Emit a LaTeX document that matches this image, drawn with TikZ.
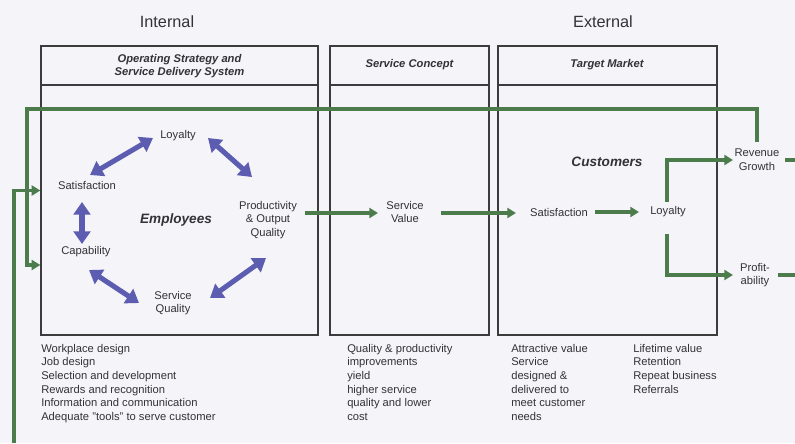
\documentclass[tikz,border=0pt]{standalone}
\usepackage{fontspec}
\setmainfont{Liberation Sans}
\usetikzlibrary{arrows.meta,fit,calc}
\definecolor{gcol}{RGB}{76,124,76}
\definecolor{bcol}{RGB}{92,92,176}
\definecolor{txt}{RGB}{50,50,55}
\definecolor{bg}{RGB}{244,244,249}
\definecolor{boxc}{RGB}{60,60,60}
\begin{document}
\begin{tikzpicture}[x=0.75pt,y=-0.75pt,
  lbl/.style={text=txt, font=\fontsize{8.4}{10.2}\selectfont, align=center, inner sep=1pt},
  hdr/.style={text=txt, font=\fontsize{8.4}{9.8}\selectfont\bfseries\itshape, align=center, inner sep=1pt},
  big/.style={text=txt, font=\fontsize{12.2}{14}\selectfont, inner sep=1pt},
  grp/.style={text=txt, font=\fontsize{10.2}{12}\selectfont\bfseries\itshape, inner sep=1pt},
  lst/.style={text=txt, font=\fontsize{8.4}{10.2}\selectfont, align=left, anchor=north west, inner sep=0pt},
  box/.style={draw=boxc, line width=1pt, inner sep=0pt},
  hline/.style={draw=boxc, line width=1pt},
  garrow/.style={draw=gcol, line width=2.3pt, -{Triangle[length=6.5pt,width=7.5pt]}},
  gline/.style={draw=gcol, line width=2.3pt},
  barrow/.style={draw=bcol, line width=3.8pt, {Triangle[length=9.5pt,width=12.5pt]}-{Triangle[length=9.5pt,width=12.5pt]}}
]
\fill[bg] (0,0) rectangle (795,443);
\useasboundingbox (0,0) rectangle (795,443);

% titles
\node[big] (int) at (167,22) {Internal};
\node[big] (ext) at (603,22) {External};

% boxes
\node[box, fit={(41,46)(318,335)}] (b1) {};
\node[box, fit={(330,46)(489,335)}] (b2) {};
\node[box, fit={(498,46)(717,335)}] (b3) {};
\draw[hline] (b1.west |- 0,85) -- (b1.east |- 0,85);
\draw[hline] (b2.west |- 0,85) -- (b2.east |- 0,85);
\draw[hline] (b3.west |- 0,85) -- (b3.east |- 0,85);

\node[hdr] (h1) at (179.5,66) {Operating Strategy and\\Service Delivery System};
\node[hdr] (h2) at (409.5,65) {Service Concept};
\node[hdr] (h3) at (607,65) {Target Market};

% employee cycle
\node[lbl] (loy) at (178,136) {Loyalty};
\node[lbl] (sat) at (87,185) {Satisfaction};
\node[lbl] (cap) at (86,252) {Capability};
\node[lbl] (sq) at (173,303) {Service\\Quality};
\node[lbl] (prod) at (268,220) {Productivity\\\& Output\\Quality};
\node[grp] (emp) at (176,220) {Employees};

\draw[barrow] ($(loy)+(-25,2)$) -- ($(sat)+(3,-10)$);
\draw[barrow] ($(loy)+(30,2)$) -- ($(prod)+(-16,-43)$);
\draw[barrow] ($(sat)+(-5,17)$) -- ($(cap)+(-4,-8)$);
\draw[barrow] ($(cap)+(3,18)$) -- ($(sq)+(-34,0)$);
\draw[barrow] ($(sq)+(37,-5)$) -- ($(prod)+(-2,38)$);

% service chain
\node[lbl] (sv) at (405,212) {Service\\Value};
\node[grp] (cust) at (607,162) {Customers};
\node[lbl] (csat) at (559,212) {Satisfaction};
\node[lbl] (cloy) at (668,212) {Loyalty};
\node[lbl] (rev) at (757,159.5) {Revenue\\Growth};
\node[lbl] (prof) at (755,275) {Profit-\\ability};

\draw[garrow] ($(prod)+(37,-7)$) -- ($(sv)+(-27,1)$);
\draw[garrow] ($(sv)+(36,1)$) -- ($(csat)+(-43,1)$);
\draw[garrow] ($(csat)+(36,0)$) -- ($(cloy)+(-29,0)$);
\draw[garrow] ($(cloy)+(-1,-10)$) |- ($(rev)+(-24,0.5)$);
\draw[garrow] ($(cloy)+(-1,22)$) |- ($(prof)+(-22,0)$);

\coordinate (redge1) at (795,160);
\coordinate (redge2) at (795,275);
\draw[gline] ($(rev)+(28,0.5)$) -- (redge1);
\draw[gline] ($(prof)+(23,0)$) -- (redge2);

% feedback loops
\coordinate (lp1) at (27,109);
\coordinate (bot) at (14,443);
\draw[garrow] ($(rev)+(0,-18)$) |- (lp1) |- ($(b1.west)+(0,74.5)$);
\draw[garrow] (bot) |- (b1.west);

% lists
\node[lst] (l1) at (41,344) {Workplace design\\Job design\\Selection and development\\Rewards and recognition\\Information and communication\\Adequate "tools" to serve customer};
\node[lst] (l2) at (347,344) {Quality \& productivity\\improvements\\yield\\higher service\\quality and lower\\cost};
\node[lst] (l3) at (511,344) {Attractive value\\Service\\designed \&\\delivered to\\meet customer\\needs};
\node[lst] (l4) at (633,344) {Lifetime value\\Retention\\Repeat business\\Referrals};
\end{tikzpicture}
\end{document}
